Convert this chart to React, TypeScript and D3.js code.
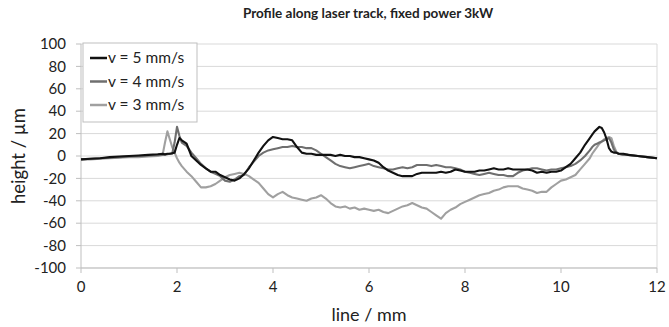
import React from "react";
import * as d3 from "d3";

const xs = [
  0, 0.2, 0.4, 0.6, 0.8, 1.0, 1.2, 1.4, 1.6,
  1.7, 1.75, 1.8, 1.85, 1.9, 1.95, 2.0, 2.05, 2.1, 2.2,
  2.3, 2.4, 2.5, 2.6, 2.7, 2.8, 2.9, 3.0, 3.1, 3.2, 3.3, 3.4, 3.5, 3.6, 3.7, 3.8, 3.9,
  4.0, 4.1, 4.2, 4.3, 4.4, 4.5, 4.6, 4.7, 4.8, 4.9,
  5.0, 5.1, 5.2, 5.3, 5.4, 5.5, 5.6, 5.7, 5.8, 5.9,
  6.0, 6.1, 6.2, 6.3, 6.4, 6.5, 6.6, 6.7, 6.8, 6.9,
  7.0, 7.1, 7.2, 7.3, 7.4, 7.5, 7.6, 7.7, 7.8, 7.9,
  8.0, 8.1, 8.2, 8.3, 8.4, 8.5, 8.6, 8.7, 8.8, 8.9,
  9.0, 9.1, 9.2, 9.3, 9.4, 9.5, 9.6, 9.7, 9.8, 9.9,
  10.0, 10.1, 10.2, 10.3, 10.4, 10.5, 10.6,
  10.65, 10.7, 10.75, 10.8, 10.85, 10.9, 10.95, 11.0, 11.05, 11.1, 11.15, 11.2,
  11.3, 11.4, 11.6, 11.8, 12.0,
];

const v5 = [
  -3, -2.5, -2, -1, -0.5, 0, 0.5, 1, 1.5,
  2, 1.5, 2, 2, 2.5, 3, 10, 16, 14, 11,
  0, -4, -8, -11, -14, -14, -17, -19, -21, -22, -20, -16, -11, -4, 3, 9, 14,
  17, 16, 15, 15, 14, 8, 3, 2, 2, 1,
  1, 1, 1, 0, 1, 0, 0, -1, -1, -2,
  -3, -4, -6, -10, -13, -15, -17, -18, -18, -18,
  -16, -15, -15, -15, -15, -14, -15, -14, -12, -13,
  -14, -14, -14, -13, -13, -12, -11, -12, -12, -11,
  -12, -12, -12, -12, -13, -15, -14, -15, -14, -14,
  -13, -10, -7, -2, 3, 10, 16,
  19, 22, 24, 26, 25, 21, 15, 7, 4, 3, 3, 2,
  2, 1, 0, -1, -2,
];

const v4 = [
  -3, -2.5, -2, -1.5, -1, -0.5, 0, 0.5, 1,
  1, 1, 1.5, 2, 2, 12, 26, 18, 12, 9,
  3, -2, -7, -11, -14, -16, -18, -22, -23, -21, -18, -17, -10, -5, 0, 3, 5,
  6, 7, 8, 8, 9, 8, 8, 7, 7, 5,
  2, -1, -4, -7, -9, -10, -11, -10, -9, -8,
  -7, -9, -10, -11, -12, -12, -11, -10, -11, -10,
  -8, -8, -8, -9, -8, -9, -10, -10, -11, -12,
  -14, -15, -16, -17, -16, -15, -16, -17, -17, -18,
  -18, -15, -13, -12, -11, -11, -12, -13, -12, -12,
  -11, -10, -9, -7, -4, 0, 5,
  8, 10, 11, 12, 13, 14, 15, 16, 12, 6, 3, 2,
  1, 1, 0, -1, -2,
];

const v3 = [
  -3, -3, -2.5, -2, -1.5, -1, -1, -0.5, 0,
  1, 12, 22, 15, 8, 3, -2, -6, -9, -14,
  -18, -23, -28, -28, -27, -25, -22, -19, -17, -16, -15, -16, -18, -21, -24, -29, -34,
  -37, -34, -32, -35, -37, -38, -39, -40, -38, -37,
  -35, -38, -42, -45, -46, -45, -47, -46, -48, -47,
  -48, -49, -48, -50, -51, -49, -47, -45, -44, -42,
  -44, -46, -47, -50, -53, -56, -51, -48, -46, -43,
  -41, -39, -37, -35, -34, -33, -31, -30, -28, -27,
  -27, -27, -29, -30, -31, -33, -32, -32, -28, -25,
  -22, -21, -19, -17, -12, -7, -2,
  2, 5, 8, 11, 13, 15, 16, 17, 16, 9, 4, 2,
  1, 1, 0, -1, -2,
];

const seriesNames = ["v = 5 mm/s", "v = 4 mm/s", "v = 3 mm/s"];
const seriesValues = [v5, v4, v3];
const seriesColors = ["#111111", "#6f6f6f", "#a0a0a0"];

const xTicks = [0, 2, 4, 6, 8, 10, 12];
const yTicks = [100, 80, 60, 40, 20, 0, -20, -40, -60, -80, -100];

const W = 669;
const H = 327;
const FONT = "Lato, 'Open Sans', sans-serif";

export default function App() {
  const x = d3.scaleLinear().domain([0, 12]).range([81, 657]);
  const y = d3.scaleLinear().domain([-100, 100]).range([268, 44]);
  const line = d3
    .line<number>()
    .x((_, i) => x(xs[i]))
    .y((d) => y(d));

  return (
    <svg
      width={W}
      height={H}
      style={{ position: "absolute", left: 0, top: 0, background: "#fff" }}
      fontFamily={FONT}
    >
      <rect x={0} y={0} width={W} height={H} fill="#fff" />
      <text
        x={368}
        y={18}
        textAnchor="middle"
        fontSize={13.5}
        fontWeight="bold"
        fill="#222"
      >
        Profile along laser track, fixed power 3kW
      </text>

      {/* gridlines */}
      {yTicks.map((t) => (
        <line
          key={"g" + t}
          x1={x(0)}
          x2={x(12)}
          y1={y(t)}
          y2={y(t)}
          stroke="#d9d9d9"
          strokeWidth={1}
        />
      ))}
      {/* right border */}
      <line x1={x(12)} x2={x(12)} y1={y(100)} y2={y(-100)} stroke="#d9d9d9" />

      {/* y axis */}
      <line x1={x(0)} x2={x(0)} y1={y(100)} y2={y(-100)} stroke="#bfbfbf" />
      {yTicks.map((t) => (
        <g key={"y" + t}>
          <line x1={x(0) - 5} x2={x(0)} y1={y(t)} y2={y(t)} stroke="#bfbfbf" />
          <text
            x={66}
            y={y(t)}
            dy="0.35em"
            textAnchor="end"
            fontSize={15}
            fill="#222"
          >
            {t}
          </text>
        </g>
      ))}

      {/* x axis */}
      <line x1={x(0)} x2={x(12)} y1={y(-100)} y2={y(-100)} stroke="#bfbfbf" />
      {xTicks.map((t) => (
        <g key={"x" + t}>
          <line x1={x(t)} x2={x(t)} y1={y(-100)} y2={y(-100) + 5} stroke="#bfbfbf" />
          <text x={x(t)} y={292} textAnchor="middle" fontSize={15} fill="#222">
            {t}
          </text>
        </g>
      ))}

      <text x={369} y={321} textAnchor="middle" fontSize={18} fill="#222">
        line / mm
      </text>
      <text
        transform={`translate(25,${y(0)}) rotate(-90)`}
        textAnchor="middle"
        fontSize={18.5}
        fill="#222"
      >
        height / µm
      </text>

      {/* series */}
      {seriesValues.slice().reverse().map((vals, ri) => {
        const i = seriesValues.length - 1 - ri;
        return (
          <path
            key={"s" + i}
            d={line(vals) || ""}
            fill="none"
            stroke={seriesColors[i]}
            strokeWidth={2.1}
            strokeLinejoin="round"
          />
        );
      })}

      {/* legend */}
      <rect x={83} y={43} width={114} height={79} fill="#fff" stroke="#bfbfbf" />
      {seriesNames.map((n, i) => {
        const cy = 58 + i * 23.5;
        return (
          <g key={"l" + i}>
            <line x1={90} x2={107} y1={cy} y2={cy} stroke={seriesColors[i]} strokeWidth={2.5} />
            <text x={108} y={cy} dy="0.35em" fontSize={15.5} fill="#222">
              {n}
            </text>
          </g>
        );
      })}
    </svg>
  );
}
